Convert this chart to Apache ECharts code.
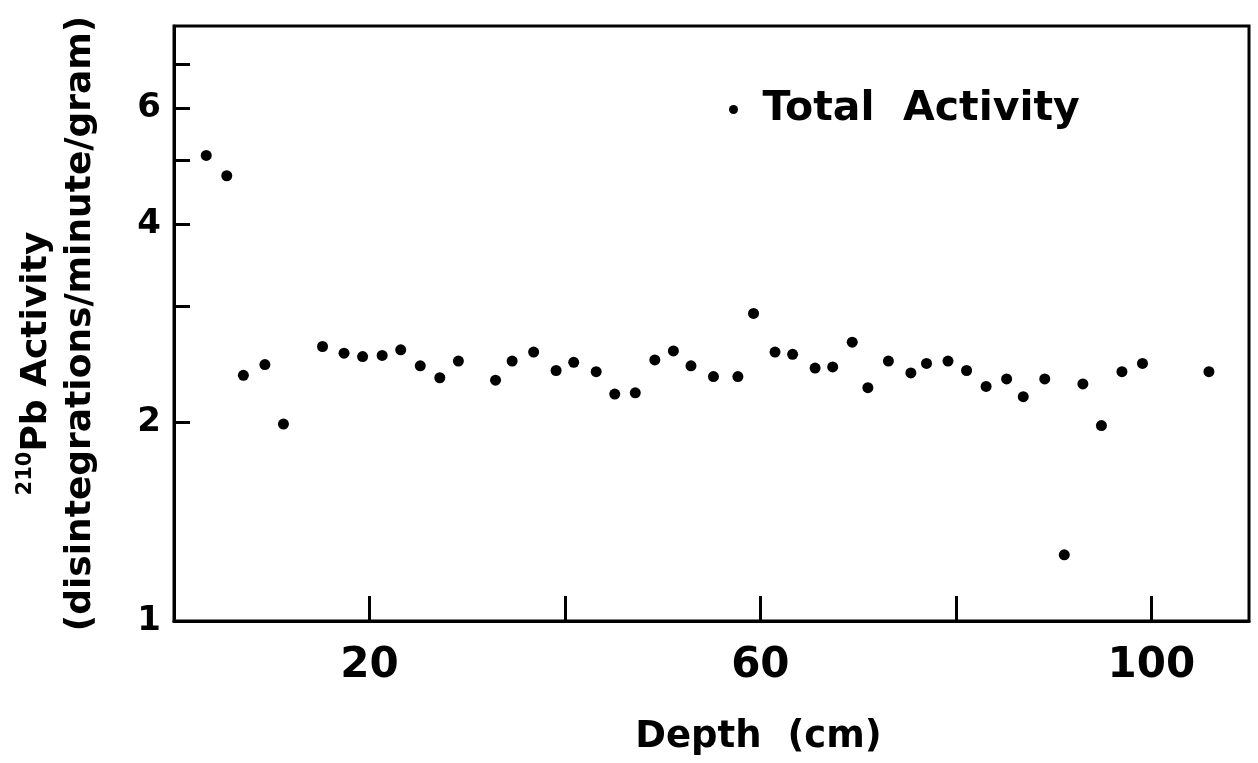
<!DOCTYPE html>
<html>
<head>
<meta charset="utf-8">
<title>210Pb Activity vs Depth</title>
<script src="https://cdn.jsdelivr.net/npm/echarts@6/dist/echarts.min.js"></script>
<style>
  html, body { margin: 0; padding: 0; background: #fff; }
  #chart { width: 1258px; height: 763px; }
</style>
</head>
<body>
<div id="chart"></div>
<script>
// Sediment core: total 210Pb activity by depth
const depthCm = [3.3, 5.4, 7.1, 9.3, 11.2, 15.2, 17.4, 19.3, 21.3, 23.2, 25.2, 27.2, 29.1,
  32.9, 34.6, 36.8, 39.1, 40.9, 43.2, 45.1, 47.2, 49.2, 51.1, 52.9, 55.2, 57.7, 59.3,
  61.5, 63.3, 65.6, 67.4, 69.4, 71.0, 73.1, 75.4, 77.0, 79.2, 81.1, 83.1, 85.2, 86.9, 89.1,
  91.1, 93.0, 94.9, 97.0, 99.1, 105.9];
const totalActivity = [5.09, 4.74, 2.36, 2.45, 1.99, 2.61, 2.55, 2.52, 2.53, 2.58, 2.44, 2.34, 2.48,
  2.32, 2.48, 2.56, 2.40, 2.47, 2.39, 2.21, 2.22, 2.49, 2.57, 2.44, 2.35, 2.35, 2.93,
  2.56, 2.54, 2.42, 2.43, 2.65, 2.26, 2.48, 2.38, 2.46, 2.48, 2.40, 2.27, 2.33, 2.19, 2.33,
  1.26, 2.29, 1.98, 2.39, 2.46, 2.39];

const xTickValues = [20, 40, 60, 80, 100];
const xLabelValues = [20, 60, 100];
const yTickValues = [1, 2, 3, 4, 5, 6, 7];
const yLabelValues = [1, 2, 4, 6];

const seriesName = 'Total  Activity';
const xAxisTitle = 'Depth  (cm)';
const yAxisTitleTop = ['210', 'Pb Activity'];
const yAxisTitleBottom = '(disintegrations/minute/gram)';

const FONT = 'DejaVu Sans';
const INK = '#000';

const points = depthCm.map((d, i) => [d, totalActivity[i]]);

const chart = echarts.init(document.getElementById('chart'), null, { renderer: 'canvas' });

chart.setOption({
  backgroundColor: '#fff',
  animation: false,
  grid: {
    left: 174, right: 9, top: 26, bottom: 142,
    show: true, borderColor: INK, borderWidth: 3, backgroundColor: 'transparent'
  },
  legend: {
    data: [seriesName],
    left: 724, top: 84,
    icon: 'circle',
    itemWidth: 48, itemHeight: 9,
    textStyle: { fontFamily: FONT, fontWeight: 'bold', fontSize: 41, color: INK },
    selectedMode: false
  },
  xAxis: {
    type: 'value',
    min: 0, max: 110,
    name: xAxisTitle,
    nameLocation: 'middle',
    nameGap: 98,
    nameTextStyle: {
      fontFamily: FONT, fontWeight: 'bold', fontSize: 37, color: INK,
      padding: [0, 0, 0, 94]
    },
    axisLine: { show: true, lineStyle: { color: INK, width: 3 } },
    axisTick: { show: true, inside: true, length: 25, lineStyle: { color: INK, width: 3 }, customValues: xTickValues },
    axisLabel: {
      customValues: xLabelValues,
      margin: 24,
      fontFamily: FONT, fontWeight: 'bold', fontSize: 42, color: INK
    },
    splitLine: { show: false }
  },
  yAxis: {
    type: 'log',
    logBase: 2,
    min: 1, max: 8,
    // first line is pushed toward the lower end of the axis by a trailing spacer
    name: '{sup|' + yAxisTitleTop[0] + '}{main|' + yAxisTitleTop[1] + '}{gap| }\n{main|' + yAxisTitleBottom + '}',
    nameLocation: 'middle',
    nameRotate: 90,
    nameGap: 71,
    nameTextStyle: {
      fontFamily: FONT, fontWeight: 'bold', color: INK,
      rich: {
        sup: { fontFamily: FONT, fontWeight: 'bold', fontSize: 21, color: INK, verticalAlign: 'top', lineHeight: 44 },
        main: { fontFamily: FONT, fontWeight: 'bold', fontSize: 36, color: INK, lineHeight: 44 },
        gap: { fontSize: 36, width: 80, lineHeight: 44 }
      }
    },
    axisLine: { show: true, lineStyle: { color: INK, width: 3 } },
    axisTick: { show: true, inside: true, length: 16, lineStyle: { color: INK, width: 3 }, customValues: yTickValues },
    axisLabel: {
      customValues: yLabelValues,
      margin: 13,
      fontFamily: FONT, fontWeight: 'bold', fontSize: 34, color: INK,
      formatter: v => String(Math.round(v))
    },
    splitLine: { show: false },
    minorTick: { show: false }
  },
  series: [{
    name: seriesName,
    type: 'scatter',
    data: points,
    symbol: 'circle',
    symbolSize: 11,
    itemStyle: { color: INK, opacity: 1 },
    emphasis: { disabled: true }
  }]
});
</script>
</body>
</html>
